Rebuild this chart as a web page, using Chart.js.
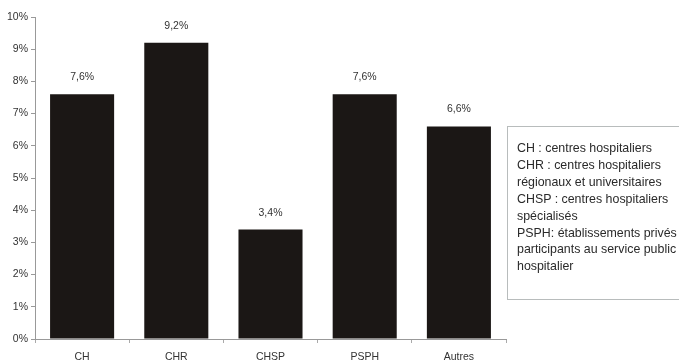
<!DOCTYPE html>
<html>
<head>
<meta charset="utf-8">
<script src="https://cdn.jsdelivr.net/npm/chart.js@4/dist/chart.umd.min.js"></script>
<style>
  body{margin:0;background:#fff;}
  #wrap{position:relative;width:679px;height:363px;}
  #legendBox{position:absolute;left:507px;top:126px;width:180px;height:174px;border:1px solid #b8bcbc;box-sizing:border-box;
    font-family:"Liberation Sans",Arial,sans-serif;font-size:12.4px;line-height:16.9px;color:#2a2a2a;padding:13px 0 0 9px;}
</style>
</head>
<body>
<div id="wrap">
  <canvas id="chart" width="679" height="363"></canvas>
  <div id="legendBox"></div>
</div>
<script>
const categories = ['CH', 'CHR', 'CHSP', 'PSPH', 'Autres'];
const values = [7.6, 9.2, 3.4, 7.6, 6.6];
const legendLines = [
  'CH : centres hospitaliers',
  'CHR : centres hospitaliers',
  'régionaux et universitaires',
  'CHSP : centres hospitaliers',
  'spécialisés',
  'PSPH: établissements privés',
  'participants au service public',
  'hospitalier'
];

const $ = id => document.getElementById(id);
$('legendBox').innerHTML = legendLines.map(l => `<div>${l}</div>`).join('');

const fmtPct = v => String(v.toFixed(1)).replace('.', ',') + '%';

const valueLabels = {
  id: 'valueLabels',
  afterDatasetsDraw(chart){
    const ctx = chart.ctx;
    const meta = chart.getDatasetMeta(0);
    ctx.save();
    ctx.font = '10.5px "Liberation Sans", Arial, sans-serif';
    ctx.fillStyle = '#333';
    ctx.textAlign = 'center';
    ctx.textBaseline = 'alphabetic';
    meta.data.forEach((bar, i) => ctx.fillText(fmtPct(values[i]), bar.x, bar.y - 14));
    ctx.restore();
  }
};

new Chart($('chart'), {
  type: 'bar',
  data: {
    labels: categories,
    datasets: [{data: values, backgroundColor: '#1b1715', borderWidth: 0, categoryPercentage: 1, barPercentage: 0.68}]
  },
  options: {
    responsive: false,
    animation: false,
    layout: {padding: {top: 17, right: 173, left: 0, bottom: 0}},
    plugins: {legend: {display: false}, tooltip: {enabled: false}},
    scales: {
      x: {
        grid: {offset: true, drawOnChartArea: false, drawTicks: true, tickLength: 4, color: '#aaa'},
        border: {color: '#999', width: 1},
        ticks: {color: '#333', padding: 8, font: {family: '"Liberation Sans", Arial, sans-serif', size: 10.5}},
        afterFit: s => { s.height = 24; }
      },
      y: {
        min: 0, max: 10,
        grid: {drawOnChartArea: false, drawTicks: true, tickLength: 4, color: '#999'},
        border: {color: '#999', width: 1},
        ticks: {stepSize: 1, color: '#333', padding: 3, callback: v => v + '%', font: {family: '"Liberation Sans", Arial, sans-serif', size: 10.5}},
        afterFit: s => { s.width = 35; }
      }
    }
  },
  plugins: [valueLabels]
});
</script>
</body>
</html>
